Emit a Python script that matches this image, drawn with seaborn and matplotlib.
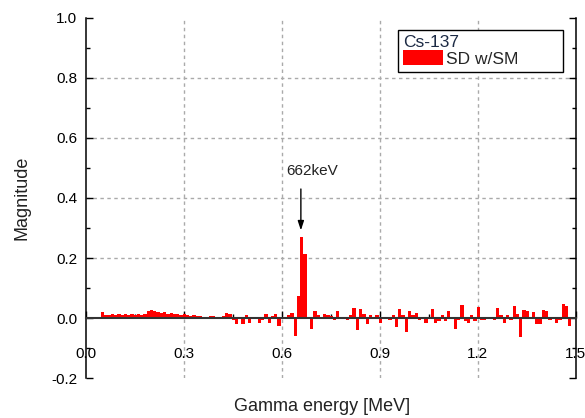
import numpy as np
import pandas as pd
import matplotlib
matplotlib.use("Agg")
import matplotlib.pyplot as plt
import seaborn as sns
from matplotlib.ticker import MultipleLocator

# ---- data ----
magnitude_low = [0.019, 0.009, 0.011, 0.014, 0.011, 0.012, 0.010, 0.012, 0.011, 0.013,
                 0.011, 0.012, 0.010, 0.013, 0.023, 0.026, 0.023, 0.021, 0.017, 0.019,
                 0.012, 0.017, 0.012]
magnitude_mid1 = [0.013, 0.010, 0.012, 0.009, 0.008, 0.009, 0.007, 0.006, 0.005, 0.004,
                  0.007, 0.008, 0.003, 0.005, 0.008, 0.017, 0.015, -0.008, -0.019, -0.004,
                  -0.019, 0.010, -0.018, 0.003]
magnitude_peak = [0.004, -0.017, -0.005, 0.012, -0.018, 0.006, 0.015, -0.026, 0.004, 0.002,
                  0.010, 0.016, -0.061, 0.072, 0.271, 0.212]
magnitude_mid2 = [0.005, -0.035, 0.022, 0.009, -0.004, 0.015, 0.010, 0.008, -0.007, 0.025,
                  0.005, 0.005, -0.005, 0.010, 0.033, -0.040, 0.030, 0.015, -0.020, 0.011,
                  0.005, 0.010, -0.015, 0.005, 0.001, -0.005, 0.010, -0.030, 0.030, 0.010,
                  -0.046, 0.025, 0.010]
magnitude_high1 = [0.017, -0.005, 0.005, -0.015, 0.005, 0.031, -0.015, -0.010, 0.010, -0.010,
                   0.025, 0.005, -0.036, -0.005, 0.044, -0.010, -0.015, 0.010, -0.010, 0.036,
                   -0.005, -0.005, 0.005, 0.005]
magnitude_high2 = [-0.005, 0.034, 0.010, -0.015, 0.010, -0.005, 0.039, 0.015, -0.063, 0.028,
                   0.025, 0.002, 0.020, -0.020, -0.020, 0.028, 0.025, -0.005, 0.005, -0.015,
                   -0.005, 0.047, 0.040, -0.028]
magnitude = (magnitude_low + magnitude_mid1 + magnitude_peak + magnitude_mid2
             + magnitude_high1 + magnitude_high2)
first_bin_center = 0.052   # MeV
bin_width = 0.01           # MeV
energy = np.round(first_bin_center + bin_width * np.arange(len(magnitude)), 3)

x_ticks = [0.0, 0.3, 0.6, 0.9, 1.2, 1.5]
y_ticks = [-0.2, 0.0, 0.2, 0.4, 0.6, 0.8, 1.0]
peak_label = "662keV"
peak_energy = 0.659
legend_title = "Cs-137"
series_label = "SD w/SM"

df = pd.DataFrame({"energy": energy, "magnitude": magnitude})

# ---- figure ----
sns.set_style("white")
plt.rcParams["font.family"] = ["Liberation Sans", "DejaVu Sans"]

fig = plt.figure(figsize=(5.85, 4.18), dpi=100)
ax = fig.add_axes([85.6 / 585, 40 / 418, 490 / 585, 360 / 418])

sns.barplot(data=df, x="energy", y="magnitude", native_scale=True, color="#ff0000",
            saturation=1, width=1.0, linewidth=0, errorbar=None, ax=ax,
            label=series_label)

ax.set_xlim(0, 1.5)
ax.set_ylim(-0.2, 1.0)

# grid lines (interior ticks only)
for xv in x_ticks[1:-1]:
    ax.axvline(xv, color="#aaaaaa", lw=1.0, ls=(0, (2.5, 2.5)), zorder=0)
for yv in y_ticks[2:-1]:
    ax.axhline(yv, color="#aaaaaa", lw=1.0, ls=(0, (2.5, 2.5)), zorder=0)

# spines
ax.spines["top"].set_visible(False)
for s in ["left", "right", "bottom"]:
    ax.spines[s].set_visible(True)
    ax.spines[s].set_color("black")
    ax.spines[s].set_linewidth(1.1)
ax.spines["bottom"].set_position(("data", 0))
ax.spines["bottom"].set_color("#333333")
ax.spines["bottom"].set_linewidth(1.5)

ax.set_xticks(x_ticks)
ax.set_xticklabels([f"{v:.1f}" for v in x_ticks])
ax.set_yticks(y_ticks)
ax.set_yticklabels([f"{v:.1f}" for v in y_ticks])
ax.xaxis.set_minor_locator(MultipleLocator(0.15))
ax.yaxis.set_minor_locator(MultipleLocator(0.1))
ax.tick_params(axis="both", which="major", direction="in", length=5, width=1,
               color="black", labelsize=11, labelcolor="black")
ax.tick_params(axis="both", which="minor", direction="in", length=3, width=1, color="black")
ax.tick_params(axis="y", which="both", left=True, right=True, pad=6)
ax.tick_params(axis="x", which="both", bottom=True, top=False, pad=21)

ax.set_xlabel("Gamma energy [MeV]", fontsize=13, color="#222222")
ax.set_ylabel("Magnitude", fontsize=13, color="#222222")
ax.xaxis.set_label_coords(0.482, -0.055)
ax.yaxis.set_label_coords(-0.113, 0.5)

# annotation
ax.annotate("", xy=(peak_energy, 0.292), xytext=(peak_energy, 0.43),
            arrowprops=dict(arrowstyle="-|>,head_width=0.18,head_length=0.55",
                            color="black", lw=1.0, shrinkA=0, shrinkB=0))
ax.text(0.693, 0.49, peak_label, ha="center", va="center", fontsize=11, color="#222222")

leg_x0 = (398 - 85.6) / 490
leg_w = (563 - 398) / 490
leg_top = (378 - 30) / 360
leg = ax.legend(title=legend_title, loc="upper left",
                bbox_to_anchor=(leg_x0, leg_top - 0.2, leg_w, 0.2), mode="expand",
                frameon=True, fancybox=False, edgecolor="black", framealpha=1,
                fontsize=12.5, title_fontsize=12.5, alignment="left",
                handlelength=2.3, handleheight=0.95, borderpad=0.3,
                labelspacing=0.0, handletextpad=0.15, borderaxespad=0)
leg.get_frame().set_linewidth(1.0)
leg.get_title().set_color("#1c2a44")
leg._legend_box.sep = 0

fig.savefig("out.png", dpi=100)
